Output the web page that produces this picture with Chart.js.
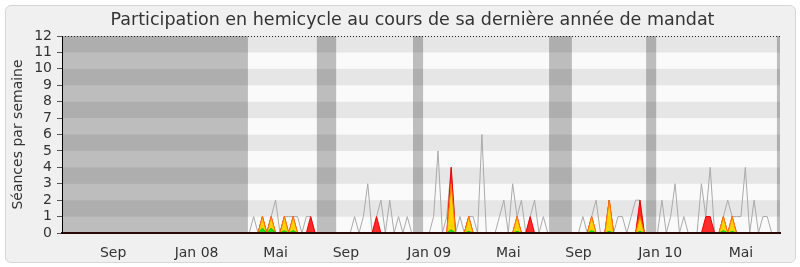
<!DOCTYPE html>
<html>
<head>
<meta charset="utf-8">
<script src="https://cdn.jsdelivr.net/npm/chart.js@4.4.1/dist/chart.umd.min.js"></script>
<style>
  html, body { margin: 0; padding: 0; background: #fff; }
  #frame { position: absolute; left: 5px; top: 5px; width: 789px; height: 256px; border: 1px solid #d6d6d6; border-radius: 6px; background: #f0f0f0; }
  #wrap { position: absolute; left: 0; top: 0; width: 800px; height: 267px; }
</style>
</head>
<body>
<div id="frame"></div>
<div id="wrap"><canvas id="participation" width="800" height="267"></canvas></div>
<script>
// one value per week, week 0 = mid June 2007
const seances = [
  0, 0, 0, 0, 0, 0, 0, 0, 0, 0, 0, 0, 0, 0, 0, 0, 0, 0, 0, 0,
  0, 0, 0, 0, 0, 0, 0, 0, 0, 0, 0, 0, 0, 0, 0, 0, 0, 0, 0, 0,
  0, 0, 0, 1, 0, 1, 0, 1, 2, 0, 1, 1, 1, 1, 0, 1, 1, 0, 0, 0,
  0, 0, 0, 0, 0, 0, 1, 0, 1, 3, 0, 1, 2, 0, 2, 0, 1, 0, 1, 0,
  0, 0, 0, 0, 1, 5, 0, 1, 4, 0, 1, 0, 1, 1, 0, 6, 0, 0, 0, 1,
  2, 0, 3, 1, 2, 0, 1, 2, 0, 1, 0, 0, 0, 0, 0, 0, 0, 0, 1, 0,
  1, 2, 0, 0, 2, 0, 1, 1, 0, 1, 2, 2, 0, 0, 0, 0, 2, 0, 1, 3,
  0, 1, 0, 0, 0, 3, 1, 4, 0, 0, 1, 2, 1, 1, 1, 4, 0, 2, 0, 1,
  1, 0, 0
];
const presences = [
  0, 0, 0, 0, 0, 0, 0, 0, 0, 0, 0, 0, 0, 0, 0, 0, 0, 0, 0, 0,
  0, 0, 0, 0, 0, 0, 0, 0, 0, 0, 0, 0, 0, 0, 0, 0, 0, 0, 0, 0,
  0, 0, 0, 0, 0, 1, 0, 1, 0, 0, 1, 0, 1, 0, 0, 0, 1, 0, 0, 0,
  0, 0, 0, 0, 0, 0, 0, 0, 0, 0, 0, 1, 0, 0, 0, 0, 0, 0, 0, 0,
  0, 0, 0, 0, 0, 0, 0, 0, 4, 0, 0, 0, 1, 0, 0, 0, 0, 0, 0, 0,
  0, 0, 0, 1, 0, 0, 1, 0, 0, 0, 0, 0, 0, 0, 0, 0, 0, 0, 0, 0,
  1, 0, 0, 0, 2, 0, 0, 0, 0, 0, 0, 2, 0, 0, 0, 0, 0, 0, 0, 0,
  0, 0, 0, 0, 0, 0, 1, 1, 0, 0, 1, 0, 1, 0, 0, 0, 0, 0, 0, 0,
  0, 0, 0
];
const interventions = [
  0, 0, 0, 0, 0, 0, 0, 0, 0, 0, 0, 0, 0, 0, 0, 0, 0, 0, 0, 0,
  0, 0, 0, 0, 0, 0, 0, 0, 0, 0, 0, 0, 0, 0, 0, 0, 0, 0, 0, 0,
  0, 0, 0, 0, 0, 1, 0, 1, 0, 0, 1, 0, 1, 0, 0, 0, 0, 0, 0, 0,
  0, 0, 0, 0, 0, 0, 0, 0, 0, 0, 0, 0, 0, 0, 0, 0, 0, 0, 0, 0,
  0, 0, 0, 0, 0, 0, 0, 0, 3, 0, 0, 0, 1, 0, 0, 0, 0, 0, 0, 0,
  0, 0, 0, 1, 0, 0, 0, 0, 0, 0, 0, 0, 0, 0, 0, 0, 0, 0, 0, 0,
  1, 0, 0, 0, 2, 0, 0, 0, 0, 0, 0, 1, 0, 0, 0, 0, 0, 0, 0, 0,
  0, 0, 0, 0, 0, 0, 0, 0, 0, 0, 1, 0, 1, 0, 0, 0, 0, 0, 0, 0,
  0, 0, 0
];
const questions = [
  0, 0, 0, 0, 0, 0, 0, 0, 0, 0, 0, 0, 0, 0, 0, 0, 0, 0, 0, 0,
  0, 0, 0, 0, 0, 0, 0, 0, 0, 0, 0, 0, 0, 0, 0, 0, 0, 0, 0, 0,
  0, 0, 0, 0, 0, 0.3, 0, 0.3, 0, 0, 0.15, 0, 0.15, 0, 0, 0, 0, 0, 0, 0,
  0, 0, 0, 0, 0, 0, 0, 0, 0, 0, 0, 0, 0, 0, 0, 0, 0, 0, 0, 0,
  0, 0, 0, 0, 0, 0, 0, 0, 0.2, 0, 0, 0, 0.1, 0, 0, 0, 0, 0, 0, 0,
  0, 0, 0, 0.1, 0, 0, 0, 0, 0, 0, 0, 0, 0, 0, 0, 0, 0, 0, 0, 0,
  0.15, 0, 0, 0, 0.1, 0, 0, 0, 0, 0, 0, 0.1, 0, 0, 0, 0, 0, 0, 0, 0,
  0, 0, 0, 0, 0, 0, 0, 0, 0, 0, 0.15, 0, 0.1, 0, 0, 0, 0, 0, 0, 0,
  0, 0, 0
];

// month labels and the week they sit on
const moisLabels = ['Sep', 'Jan 08', 'Mai', 'Sep', 'Jan 09', 'Mai', 'Sep', 'Jan 10', 'Mai'];
const moisSemaines = [11, 30, 48, 64, 83, 101, 117, 135.6, 154];

// shaded periods (hors mandat, then vacances parlementaires), in weeks
const horsSessionDebut = [-0.65, 57.4, 79.3, 110.3, 132.4, 162.2];
const horsSessionFin = [41.7, 61.8, 81.6, 115.5, 134.7, 162.9];

const toPoints = (values) => values.map((v, i) => ({ x: i, y: v }));

const backdrop = {
  id: 'backdrop',
  beforeDraw(chart) {
    const { ctx, chartArea: a, scales: { x, y } } = chart;
    ctx.save();
    for (let v = 0; v < 12; v++) {
      const top = y.getPixelForValue(v + 1);
      const bottom = y.getPixelForValue(v);
      ctx.fillStyle = v % 2 ? '#e6e6e6' : '#fafafa';
      ctx.fillRect(a.left, top, a.right - a.left, bottom - top);
    }
    ctx.fillStyle = 'rgba(0, 0, 0, 0.245)';
    horsSessionDebut.forEach((start, k) => {
      const x0 = Math.max(x.getPixelForValue(start), a.left);
      const x1 = Math.min(x.getPixelForValue(horsSessionFin[k]), a.right);
      ctx.fillRect(x0, a.top, x1 - x0, a.bottom - a.top);
    });
    ctx.strokeStyle = '#222';
    ctx.lineWidth = 1;
    ctx.setLineDash([1, 2]);
    ctx.beginPath();
    ctx.moveTo(a.left, a.top + 0.5);
    ctx.lineTo(a.right, a.top + 0.5);
    ctx.stroke();
    ctx.restore();
  }
};

// hide the flat stretches lying on the baseline
const flatHidden = (ctx) => (ctx.p0.parsed.y === 0 && ctx.p1.parsed.y === 0 ? 'rgba(0,0,0,0)' : undefined);

const area = (data, fill, border, order) => ({
  data: toPoints(data),
  backgroundColor: fill,
  borderColor: border,
  borderWidth: 1,
  fill: 'origin',
  pointRadius: 0,
  tension: 0,
  order,
  segment: { borderColor: flatHidden }
});

new Chart(document.getElementById('participation'), {
  type: 'line',
  data: {
    datasets: [
      area(questions, '#22dd22', '#11cc11', 0),
      area(interventions, '#ffd400', '#ff7a00', 1),
      area(presences, 'rgba(255, 20, 20, 0.9)', '#ee0000', 2),
      { data: toPoints(seances), borderColor: '#aaaaaa', borderWidth: 1, fill: false, pointRadius: 0, tension: 0, order: 3, segment: { borderColor: flatHidden } }
    ]
  },
  options: {
    responsive: false,
    animation: false,
    layout: { padding: { left: 35, right: 10, top: 0, bottom: 0 } },
    plugins: {
      legend: { display: false },
      tooltip: { enabled: false },
      title: {
        display: true,
        text: 'Participation en hemicycle au cours de sa dernière année de mandat',
        color: '#333',
        font: { family: 'DejaVu Sans', size: 17.5, weight: 'normal' },
        padding: { top: 9.5, bottom: 5.5 }
      }
    },
    scales: {
      x: {
        type: 'linear',
        min: -0.65,
        max: 162.9,
        afterFit: (s) => { s.height = 34; },
        afterBuildTicks: (s) => { s.ticks = moisSemaines.map((v) => ({ value: v })); },
        grid: { display: false },
        border: { display: true, color: '#2a0808', width: 2, z: 1 },
        ticks: {
          autoSkip: false,
          maxRotation: 0,
          padding: 4,
          color: '#333',
          font: { family: 'DejaVu Sans', size: 14 },
          callback: (v) => moisLabels[moisSemaines.indexOf(v)]
        }
      },
      y: {
        min: 0,
        max: 12,
        afterFit: (s) => { s.width = 27; },
        grid: { drawOnChartArea: false, drawTicks: true, tickLength: 5, color: '#555' },
        border: { display: true, color: '#000', width: 1, z: 1 },
        ticks: {
          stepSize: 1,
          autoSkip: false,
          padding: 5,
          color: '#333',
          font: { family: 'DejaVu Sans', size: 14 }
        },
        title: {
          display: true,
          text: 'Séances par semaine',
          color: '#333',
          font: { family: 'DejaVu Sans', size: 14 },
          padding: { top: -25.4, bottom: 0 }
        }
      },
      // empty right-hand strip, keeps the plot ending at the same place
      marge: {
        type: 'linear',
        position: 'right',
        afterFit: (s) => { s.width = 10; },
        grid: { display: false },
        border: { display: false },
        ticks: { display: false }
      }
    }
  },
  plugins: [backdrop]
});
</script>
</body>
</html>
